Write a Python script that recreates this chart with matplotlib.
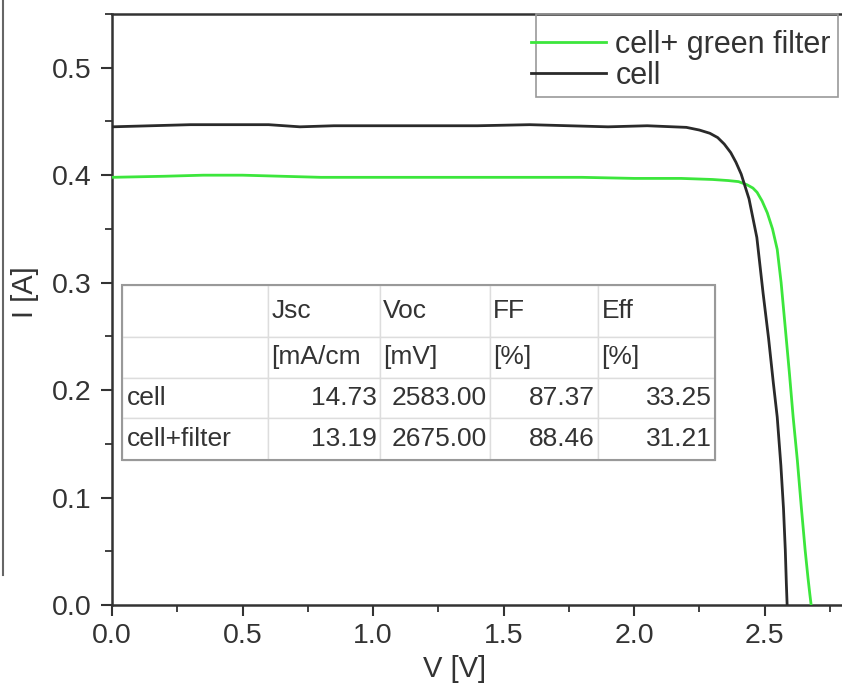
import matplotlib
matplotlib.use('Agg')
import matplotlib.pyplot as plt
from matplotlib.ticker import MultipleLocator
from matplotlib.lines import Line2D

plt.rcParams['font.family'] = ['Liberation Sans', 'DejaVu Sans']

# IV curve of the bare cell (black)
v_cell = [0.0, 0.15, 0.3, 0.45, 0.6, 0.72, 0.85, 1.0, 1.2, 1.4, 1.6, 1.75, 1.9,
          2.05, 2.15, 2.20, 2.25, 2.29, 2.32, 2.345, 2.37, 2.39, 2.41, 2.44,
          2.47, 2.494, 2.515, 2.533, 2.548, 2.562, 2.572, 2.579, 2.583, 2.586]
i_cell = [0.445, 0.446, 0.447, 0.447, 0.447, 0.445, 0.446, 0.446, 0.446, 0.446,
          0.447, 0.446, 0.445, 0.446, 0.445, 0.4445, 0.442, 0.439, 0.435, 0.429,
          0.421, 0.412, 0.401, 0.378, 0.342, 0.290, 0.248, 0.207, 0.175, 0.130,
          0.090, 0.051, 0.020, 0.0]

# IV curve of the cell behind the green filter
v_green = [0.0, 0.2, 0.35, 0.5, 0.65, 0.8, 1.0, 1.2, 1.4, 1.6, 1.8, 2.0, 2.18,
           2.3, 2.36, 2.40, 2.433, 2.455, 2.471, 2.49, 2.51, 2.53, 2.548, 2.563,
           2.58, 2.595, 2.609, 2.625, 2.64, 2.655, 2.666, 2.673, 2.678]
i_green = [0.398, 0.399, 0.400, 0.400, 0.399, 0.398, 0.398, 0.398, 0.398, 0.398,
           0.398, 0.397, 0.397, 0.396, 0.395, 0.394, 0.391, 0.388, 0.384, 0.376,
           0.365, 0.350, 0.331, 0.300, 0.255, 0.215, 0.175, 0.135, 0.092, 0.051,
           0.025, 0.010, 0.0]

col_labels = ['', 'Jsc', 'Voc', 'FF', 'Eff']
unit_labels = ['', '[mA/cm', '[mV]', '[%]', '[%]']
row_names = ['cell', 'cell+filter']
jsc = [14.73, 13.19]
voc = [2583.00, 2675.00]
ff = [87.37, 88.46]
eff = [33.25, 31.21]

fig = plt.figure(figsize=(8.42, 6.88), dpi=100)
ax = fig.add_axes([112 / 842, 1 - 605 / 688, 731 / 842, 591 / 688])

ax.plot(v_green, i_green, color='#3ce63c', lw=2.0, label='cell+ green filter', zorder=3)
ax.plot(v_cell, i_cell, color='#2a2a2a', lw=2.0, label='cell', zorder=4)

ax.set_xlim(0, 2.8)
ax.set_ylim(0, 0.55)
ax.xaxis.set_major_locator(MultipleLocator(0.5))
ax.xaxis.set_minor_locator(MultipleLocator(0.25))
ax.yaxis.set_major_locator(MultipleLocator(0.1))
ax.yaxis.set_minor_locator(MultipleLocator(0.05))
ax.tick_params(which='major', direction='out', length=8, width=1.5,
               labelsize=20.5, colors='#333333', pad=5)
ax.tick_params(axis='y', which='major', pad=7)
ax.tick_params(which='minor', direction='out', length=5, width=1.3, colors='#333333')
for s in ['left', 'bottom', 'top']:
    ax.spines[s].set_linewidth(1.8)
    ax.spines[s].set_color('#333333')
ax.spines['right'].set_visible(False)

ax.set_xlabel('V [V]', fontsize=21, color='#333333')
ax.set_ylabel('I [A]', fontsize=21, color='#333333')
ax.xaxis.set_label_coords(0.469, -0.085)
ax.yaxis.set_label_coords(-0.10, 0.53)

# legend without its own frame, box drawn separately (handles touch the left edge)
leg = fig.legend(*ax.get_legend_handles_labels(), loc='upper right', fontsize=22,
                 frameon=False, borderaxespad=0, handlelength=2.45, handletextpad=0.3,
                 labelspacing=0.05, borderpad=0.1,
                 bbox_to_anchor=(834 / 842, 1 - 26.6 / 688))
for t in leg.get_texts():
    t.set_color('#333333')
fig.add_artist(plt.Rectangle((536 / 842, 1 - 97 / 688), 302 / 842, 83 / 688,
                             transform=fig.transFigure, fill=False, ec='#999999',
                             lw=1.2))

cells = [col_labels, unit_labels]
for k in range(len(row_names)):
    cells.append([row_names[k], f'{jsc[k]:.2f}', f'{voc[k]:.2f}',
                  f'{ff[k]:.2f}', f'{eff[k]:.2f}'])

col_w = [146, 112, 110, 108, 117]
row_h = [52, 41, 40, 42]
tb = ax.table(cellText=cells, cellLoc='left',
              bbox=[10 / 731, (605 - 460) / 591, 593 / 731, 175 / 591])
tb.auto_set_font_size(False)
tb.set_fontsize(19)
for (r, c), cell in tb.get_celld().items():
    cell.set_width(col_w[c])
    cell.set_height(row_h[r])
    cell.set_edgecolor('#dddddd')
    cell.set_linewidth(1.0)
    cell.PAD = 0.03
    cell.get_text().set_color('#333333')
    if r >= 2 and c >= 1:
        cell._loc = 'right'
        cell.get_text().set_ha('right')
tb.set_zorder(5)

# outer border of the table
ax.add_patch(plt.Rectangle((10 / 731, (605 - 460) / 591), 593 / 731, 175 / 591,
                           transform=ax.transAxes, fill=False, ec='#999999',
                           lw=1.5, zorder=6))

# crop edge on the left side of the picture
fig.add_artist(Line2D([3 / 842, 3 / 842], [1 - 575 / 688, 1.0], color='#666666', lw=1.5))

fig.savefig('out.png', dpi=100)
